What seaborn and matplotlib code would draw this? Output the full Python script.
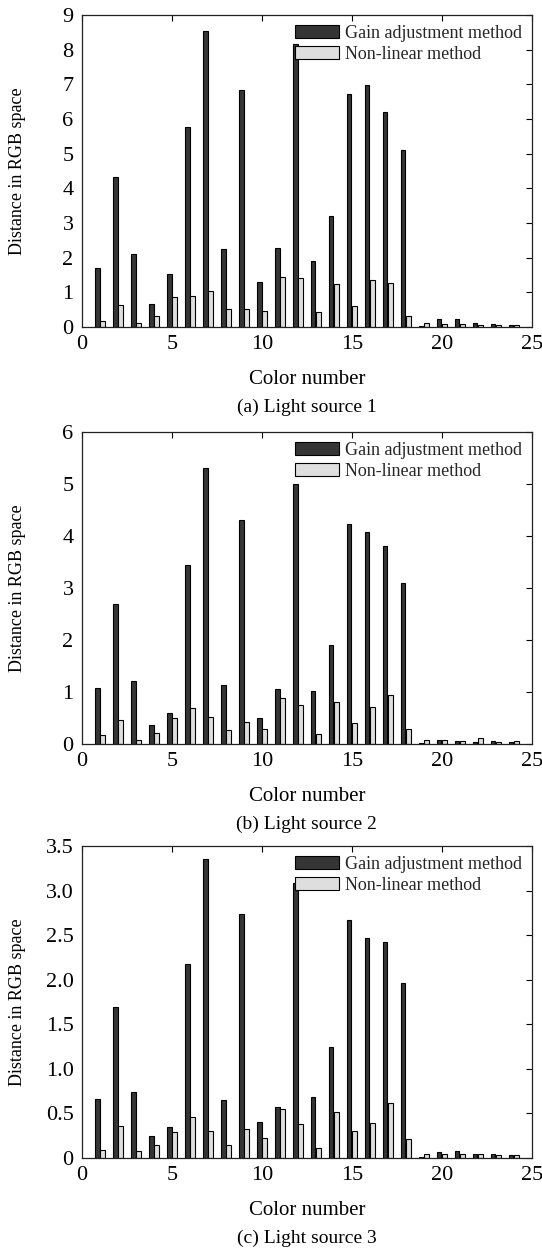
import numpy as np
import pandas as pd
import matplotlib
matplotlib.use("Agg")
import matplotlib.pyplot as plt
from matplotlib.patches import Patch
from matplotlib.ticker import FuncFormatter
import seaborn as sns

colors_no = list(range(1, 25))

gain_1 = [1.69, 4.32, 2.10, 0.66, 1.53, 5.77, 8.53, 2.26, 6.85, 1.29, 2.29, 8.17,
          1.89, 3.21, 6.73, 6.99, 6.21, 5.10, 0.02, 0.22, 0.22, 0.12, 0.09, 0.07]
nonlin_1 = [0.16, 0.64, 0.13, 0.32, 0.87, 0.90, 1.03, 0.53, 0.53, 0.47, 1.45, 1.42,
            0.42, 1.24, 0.62, 1.37, 1.27, 0.32, 0.13, 0.10, 0.10, 0.07, 0.06, 0.07]

gain_2 = [1.07, 2.69, 1.21, 0.36, 0.59, 3.45, 5.30, 1.14, 4.30, 0.50, 1.05, 5.00,
          1.01, 1.91, 4.23, 4.07, 3.80, 3.09, 0.02, 0.07, 0.06, 0.03, 0.05, 0.03]
nonlin_2 = [0.17, 0.47, 0.08, 0.22, 0.49, 0.70, 0.52, 0.26, 0.43, 0.29, 0.89, 0.75,
            0.20, 0.80, 0.40, 0.71, 0.94, 0.29, 0.08, 0.07, 0.05, 0.11, 0.03, 0.05]

gain_3 = [0.66, 1.69, 0.745, 0.245, 0.345, 2.18, 3.36, 0.65, 2.74, 0.40, 0.57, 3.08,
          0.69, 1.25, 2.67, 2.47, 2.42, 1.96, 0.01, 0.07, 0.08, 0.05, 0.04, 0.03]
nonlin_3 = [0.09, 0.36, 0.075, 0.145, 0.29, 0.46, 0.30, 0.145, 0.33, 0.23, 0.55, 0.38,
            0.11, 0.52, 0.30, 0.39, 0.62, 0.215, 0.05, 0.04, 0.04, 0.04, 0.03, 0.03]

methods = ["Gain adjustment method", "Non-linear method"]
captions = ["(a) Light source 1", "(b) Light source 2", "(c) Light source 3"]
y_max = [9, 6, 3.5]
y_step = [1, 1, 0.5]

panels = [(gain_1, nonlin_1), (gain_2, nonlin_2), (gain_3, nonlin_3)]

palette = {methods[0]: "#353535", methods[1]: "#dedede"}

sns.set_theme(style="white")
plt.rcParams["font.family"] = ["Liberation Serif", "DejaVu Serif"]

fig = plt.figure(figsize=(5.42, 12.51), dpi=100)

bottoms = [0.7386, 0.4053, 0.0743]
ax_h = 0.2494

for i, (gain, nonlin) in enumerate(panels):

    ax = fig.add_axes([0.151, bottoms[i], 0.830, ax_h])

    df = pd.DataFrame({
        "color": colors_no * 2,
        "distance": gain + nonlin,
        "method": [methods[0]] * len(gain) + [methods[1]] * len(nonlin)
    })

    sns.barplot(
        data=df,
        x="color",
        y="distance",
        hue="method",
        palette=palette,
        native_scale=True,
        width=0.6,
        gap=0.1,
        edgecolor="black",
        linewidth=0.8,
        ax=ax,
        legend=False
    )

    ax.set_xlim(0, 25)
    ax.set_ylim(0, y_max[i])
    ax.set_xticks(range(0, 26, 5))
    ax.set_yticks(np.arange(0, y_max[i] + 1e-9, y_step[i]))

    if y_step[i] < 1:
        ax.yaxis.set_major_formatter(
            FuncFormatter(lambda v, p: "0" if v == 0 else f"{v:.1f}")
        )
    else:
        ax.yaxis.set_major_formatter(FuncFormatter(lambda v, p: f"{v:.0f}"))

    ax.tick_params(direction="in", top=True, right=True, length=4,
                   width=0.8, labelsize=16, colors="black", pad=6)

    for s in ax.spines.values():
        s.set_color("#222222")
        s.set_linewidth(0.9)

    ax.set_xlabel("")
    ax.set_ylabel("Distance in RGB space", fontsize=13, color="black")
    ax.yaxis.set_label_coords(-0.125, 0.5)

    ax.text(0.5, -0.168, "Color number", transform=ax.transAxes,
            ha="center", va="center", fontsize=15, color="black")
    ax.text(0.5, -0.258, captions[i], transform=ax.transAxes,
            ha="center", va="center", fontsize=14, color="black")

    handles = [
        Patch(facecolor=palette[m], edgecolor="black", linewidth=0.8)
        for m in methods
    ]

    ax.legend(
        handles,
        methods,
        loc="upper right",
        frameon=False,
        fontsize=13,
        handlelength=2.45,
        handleheight=0.72,
        handletextpad=0.3,
        labelspacing=0.2,
        borderaxespad=0.35,
        borderpad=0.2
    )

fig.savefig("out.png", dpi=100)
